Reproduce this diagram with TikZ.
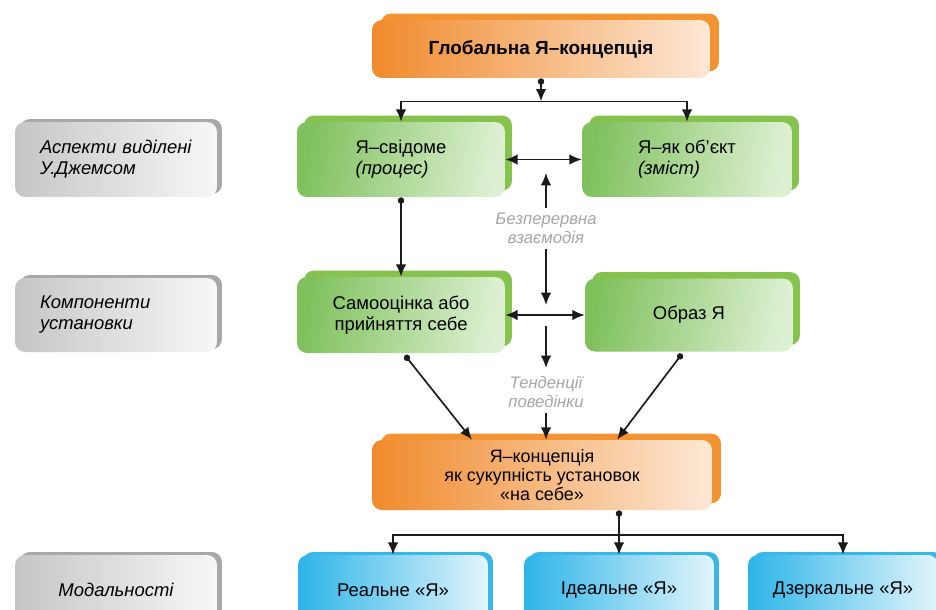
\documentclass[tikz,border=0pt]{standalone}
\usepackage{fontspec}
\setmainfont{Liberation Sans}
\usetikzlibrary{arrows.meta,shadows,calc}
\definecolor{orBack}{HTML}{F39433}
\definecolor{orLeft}{HTML}{F08A2C}
\definecolor{orRight}{HTML}{FDE8D6}
\definecolor{grBack}{HTML}{86C24E}
\definecolor{grLeft}{HTML}{80C15E}
\definecolor{grRight}{HTML}{DDF0D2}
\definecolor{blBack}{HTML}{3AB7E6}
\definecolor{blLeft}{HTML}{2DB4E8}
\definecolor{blRight}{HTML}{E2F5FC}
\definecolor{gyBack}{HTML}{A8A8A8}
\definecolor{gyLeft}{HTML}{C6C6C6}
\definecolor{gyRight}{HTML}{F7F7F7}
\definecolor{lblGrey}{HTML}{A6A6A6}
\definecolor{lineCol}{HTML}{1A1A1A}
\tikzset{
  basebox/.style={rounded corners=0.2cm, draw=none, inner sep=2pt,
    font=\fontsize{10.5}{12}\selectfont, text=black},
  orbox/.style={basebox, left color=orLeft, right color=orRight,
    general shadow={fill=orBack, shadow xshift=0.18cm, shadow yshift=0.13cm}},
  grbox/.style={basebox, left color=grLeft, right color=grRight, shading angle=80,
    general shadow={fill=grBack, shadow xshift=0.14cm, shadow yshift=0.13cm}},
  blbox/.style={basebox, left color=blLeft, right color=blRight,
    general shadow={fill=blBack, shadow xshift=0.1cm, shadow yshift=0.06cm}},
  gybox/.style={basebox, left color=gyLeft, right color=gyRight,
    minimum width=4.04cm, font=\fontsize{10.5}{12}\selectfont\itshape,
    general shadow={fill=gyBack, shadow xshift=0.1cm, shadow yshift=0.06cm}},
  conn/.style={draw=lineCol, line width=0.95pt},
  arr/.style={conn, -{Latex[length=7pt,width=6pt]}},
  dotarr/.style={conn, {Circle[length=3.6pt]}-{Latex[length=7pt,width=6pt]}},
  dblarr/.style={conn, {Latex[length=7pt,width=6pt]}-{Latex[length=7pt,width=6pt]}},
  greylbl/.style={text=lblGrey, font=\fontsize{9.5}{11}\selectfont\itshape, align=center, inner sep=0pt}
}
\begin{document}
\begin{tikzpicture}[x=0.02cm,y=-0.02cm]
\clip (0,0) rectangle (936,609);
\fill[white] (0,0) rectangle (936,609);

% left grey boxes
\node[gybox, minimum height=1.5cm, text width=3.04cm, inner xsep=0.5cm, align=left] (asp) at (116,159.5) {Аспекти виділені\\У.Джемсом};
\node[gybox, minimum height=1.48cm, text width=3.04cm, inner xsep=0.5cm, align=left] (comp) at (116,315) {Компоненти\\установки};
\node[gybox, minimum height=1.4cm, align=center] (mod) at (116,590) {Модальності};

% orange boxes
\node[orbox, minimum width=6.76cm, minimum height=1.16cm, font=\fontsize{10.8}{12}\selectfont\bfseries] (glob) at (541,49) {Глобальна Я–концепція};
\node[orbox, minimum width=6.8cm, minimum height=1.4cm, align=center, font=\fontsize{10.2}{10.8}\selectfont] (bcon) at (542,475) {Я–концепція\\як сукупність установок\\«на себе»};

% green boxes
\node[grbox, minimum width=4.16cm, minimum height=1.5cm, align=left] (self) at (401,159.5) {Я–свідоме\\\textit{(процес)}};
\node[grbox, minimum width=4.2cm, minimum height=1.5cm, align=left] (obj) at (687,159.5) {Я–як об'єкт\\\textit{(зміст)}};
\node[grbox, minimum width=4.16cm, minimum height=1.52cm, align=center] (est) at (401,315) {Самооцінка або\\прийняття себе};
\node[grbox, minimum width=4.16cm, minimum height=1.46cm, align=center] (img) at (689,315) {Образ Я};

% blue boxes
\node[blbox, minimum width=3.8cm, minimum height=1.4cm] (real) at (393,590) {Реальне «Я»};
\node[blbox, minimum width=3.8cm, minimum height=1.4cm] (ideal) at (619,590) {Ідеальне «Я»};
\node[blbox, minimum width=3.8cm, minimum height=1.4cm] (mirror) at (843,590) {Дзеркальне «Я»};

% middle labels
\node[greylbl] (inter) at (546,228) {Безперервна\\взаємодія};
\node[greylbl] (tend) at (546,392) {Тенденції\\поведінки};

% coordinates
\coordinate (tb) at ($(glob.south)+(0,23)$);
\coordinate (m1) at (546,173);
\coordinate (m0) at (546,208);
\coordinate (m2) at (546,249);
\coordinate (m3) at (546,305);
\coordinate (m4) at (546,326);
\coordinate (m5) at (546,368);
\coordinate (m6) at (546,413);
\coordinate (bb) at ($(ideal.north)+(0,-20)$);

% top connectors
\draw[dotarr] (glob.south) -- (tb);
\draw[arr] (tb) -| (self.north);
\draw[arr] (tb) -| (obj.north);

% horizontal double arrows
\draw[dblarr] (self.east) -- (obj.west);
\draw[dblarr] (est.east) -- (img.west);

% vertical
\draw[dotarr] (self.south) -- (est.north);
\draw[arr] (m0) -- (m1);
\draw[arr] (m2) -- (m3);
\draw[arr] (m4) -- (m5);
\draw[arr] (m6) -- (bcon.north -| m6);

% diagonals
\draw[dotarr] ($(est.south)+(4,2)$) -- ($(bcon.north)+(-70,0)$);
\draw[dotarr] ($(img.south)+(-7,2)$) -- ($(bcon.north)+(75,0)$);

% bottom
\draw[dotarr] (bcon.south -| ideal.north) -- (ideal.north);
\draw[arr] (bb) -| (real.north);
\draw[arr] (bb) -| (mirror.north);
\end{tikzpicture}
\end{document}
